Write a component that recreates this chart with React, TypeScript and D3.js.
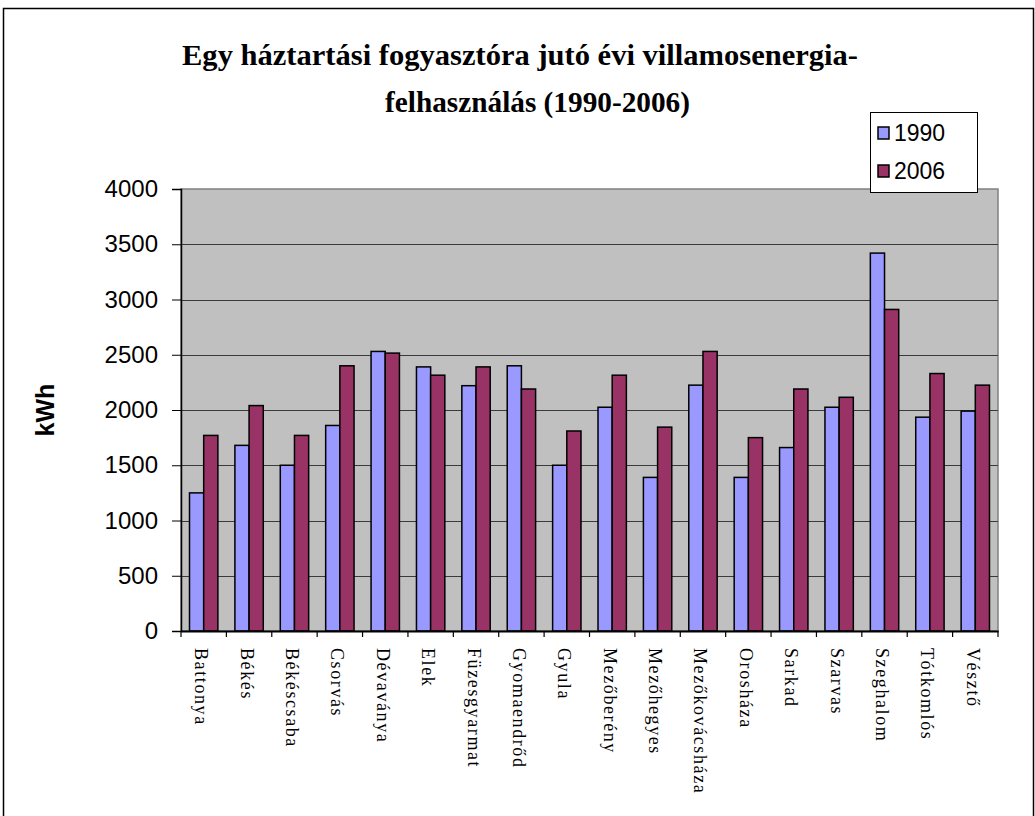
import React, { useEffect, useRef } from "react";
import * as d3 from "d3";

const towns = [
  "Battonya", "Békés", "Békéscsaba", "Csorvás", "Dévaványa", "Elek",
  "Füzesgyarmat", "Gyomaendrőd", "Gyula", "Mezőberény", "Mezőhegyes",
  "Mezőkovácsháza", "Orosháza", "Sarkad", "Szarvas", "Szeghalom",
  "Tótkomlós", "Vésztő",
];
const values1990 = [
  1250, 1680, 1500, 1860, 2530, 2390, 2220, 2400, 1500, 2025, 1390,
  2225, 1390, 1660, 2025, 3420, 1935, 1990,
];
const values2006 = [
  1770, 2040, 1770, 2400, 2515, 2315, 2390, 2190, 1810, 2315, 1845,
  2530, 1750, 2190, 2115, 2910, 2330, 2225,
];
const seriesNames = ["1990", "2006"];
const yTicks = [0, 500, 1000, 1500, 2000, 2500, 3000, 3500, 4000];

const App = () => {
  const ref = useRef<SVGSVGElement>(null);

  useEffect(() => {
    const svg = d3.select(ref.current);
    svg.selectAll("*").remove();

    const W = 1035;
    const H = 816;
    const plot = { left: 181, right: 998, top: 189, bottom: 631 };
    const colors = ["#9999FF", "#993366"];

    // outer chart border
    svg
      .append("rect")
      .attr("x", 3.5)
      .attr("y", 8.5)
      .attr("width", W - 5)
      .attr("height", H + 20)
      .attr("fill", "#fff")
      .attr("stroke", "#000")
      .attr("stroke-width", 1.5);

    const x = d3
      .scaleBand()
      .domain(towns)
      .range([plot.left, plot.right])
      .paddingInner(0)
      .paddingOuter(0);

    const xSub = d3
      .scaleBand()
      .domain(seriesNames)
      .range([0, x.bandwidth()])
      .paddingInner(0)
      .paddingOuter(0.6);

    const y = d3.scaleLinear().domain([0, 4000]).range([plot.bottom, plot.top]);

    // plot background
    svg
      .append("rect")
      .attr("x", plot.left)
      .attr("y", plot.top)
      .attr("width", plot.right - plot.left)
      .attr("height", plot.bottom - plot.top)
      .attr("fill", "#C0C0C0")
      .attr("stroke", "#808080")
      .attr("stroke-width", 1.5);

    // gridlines
    svg
      .append("g")
      .selectAll("line")
      .data(yTicks.filter((t) => t > 0 && t < 4000))
      .join("line")
      .attr("x1", plot.left)
      .attr("x2", plot.right)
      .attr("y1", (d) => Math.round(y(d)) + 0.5)
      .attr("y2", (d) => Math.round(y(d)) + 0.5)
      .attr("stroke", "#3a3a3a")
      .attr("stroke-width", 1);

    // bars
    const data = towns.map((t, i) => ({ town: t, vals: [values1990[i], values2006[i]] }));
    svg
      .append("g")
      .selectAll("g")
      .data(data)
      .join("g")
      .attr("transform", (d) => `translate(${x(d.town)},0)`)
      .selectAll("rect")
      .data((d) => d.vals.map((v, k) => ({ key: seriesNames[k], v, k })))
      .join("rect")
      .attr("x", (d) => xSub(d.key)!)
      .attr("y", (d) => y(d.v))
      .attr("width", xSub.bandwidth())
      .attr("height", (d) => y(0) - y(d.v))
      .attr("fill", (d) => colors[d.k])
      .attr("stroke", "#000")
      .attr("stroke-width", 1.5);

    // y axis
    const yAxis = svg
      .append("g")
      .attr("transform", `translate(${plot.left},0)`)
      .call(d3.axisLeft(y).tickValues(yTicks).tickSize(9).tickPadding(14).tickFormat(d3.format("d")));
    yAxis.select(".domain").attr("stroke", "#000").attr("stroke-width", 1.5);
    yAxis.selectAll(".tick line").attr("stroke", "#000");
    yAxis
      .selectAll(".tick text")
      .attr("font-family", "Liberation Sans, Arial, sans-serif")
      .attr("font-size", 24)
      .attr("fill", "#000");

    // x axis
    const xAxis = svg
      .append("g")
      .attr("transform", `translate(0,${plot.bottom})`)
      .call(d3.axisBottom(x).tickSize(0).tickFormat(() => ""));
    xAxis.select(".domain").attr("stroke", "#000").attr("stroke-width", 2);
    xAxis.selectAll(".tick").remove();

    // category separators ticks
    const bounds = towns.map((t) => x(t)!).concat([plot.right]);
    svg
      .append("g")
      .selectAll("line")
      .data(bounds)
      .join("line")
      .attr("x1", (d) => d)
      .attr("x2", (d) => d)
      .attr("y1", plot.bottom)
      .attr("y2", plot.bottom + 6)
      .attr("stroke", "#000")
      .attr("stroke-width", 1.2);

    // category labels (rotated)
    svg
      .append("g")
      .selectAll("text")
      .data(towns)
      .join("text")
      .attr("transform", (d) => `translate(${x(d)! + x.bandwidth() / 2 - 8.5},${plot.bottom + 17}) rotate(90)`)
      .attr("text-anchor", "start")
      .attr("font-family", "'Liberation Serif', 'Times New Roman', serif")
      .attr("font-size", 18)
      .attr("letter-spacing", 1.6)
      .attr("fill", "#000")
      .text((d) => d);

    // y title
    svg
      .append("text")
      .attr("transform", `translate(54,${(plot.top + plot.bottom) / 2}) rotate(-90)`)
      .attr("text-anchor", "middle")
      .attr("font-family", "Liberation Sans, Arial, sans-serif")
      .attr("font-weight", "bold")
      .attr("font-size", 25)
      .text("kWh");

    // title
    const title = svg
      .append("g")
      .attr("font-family", "'Liberation Serif', 'Times New Roman', serif")
      .attr("font-weight", "bold")
      .attr("font-size", 30)
      .attr("fill", "#000");
    title
      .append("text")
      .attr("x", 182)
      .attr("y", 65)
      .attr("textLength", 676)
      .attr("lengthAdjust", "spacingAndGlyphs")
      .text("Egy háztartási fogyasztóra jutó évi villamosenergia-");
    title
      .append("text")
      .attr("x", 385)
      .attr("y", 112)
      .attr("textLength", 305)
      .attr("lengthAdjust", "spacingAndGlyphs")
      .text("felhasználás (1990-2006)");

    // legend
    const legend = svg.append("g").attr("transform", "translate(870,112)");
    legend
      .append("rect")
      .attr("x", 0.5)
      .attr("y", 0.5)
      .attr("width", 107)
      .attr("height", 80)
      .attr("fill", "#fff")
      .attr("stroke", "#000")
      .attr("stroke-width", 1);
    const items = legend
      .selectAll("g.item")
      .data(seriesNames)
      .join("g")
      .attr("class", "item")
      .attr("transform", (d, i) => `translate(0,${21 + i * 38})`);
    items
      .append("rect")
      .attr("x", 8)
      .attr("y", -6)
      .attr("width", 11)
      .attr("height", 12)
      .attr("fill", (d, i) => colors[i])
      .attr("stroke", "#000")
      .attr("stroke-width", 1.5);
    items
      .append("text")
      .attr("x", 24)
      .attr("y", 8)
      .attr("font-family", "Liberation Sans, Arial, sans-serif")
      .attr("font-size", 23)
      .attr("fill", "#000")
      .text((d) => d);
  }, []);

  return (
    <svg
      ref={ref}
      width={1035}
      height={816}
      style={{ position: "absolute", left: 0, top: 0, background: "#fff" }}
    />
  );
};

export default App;
